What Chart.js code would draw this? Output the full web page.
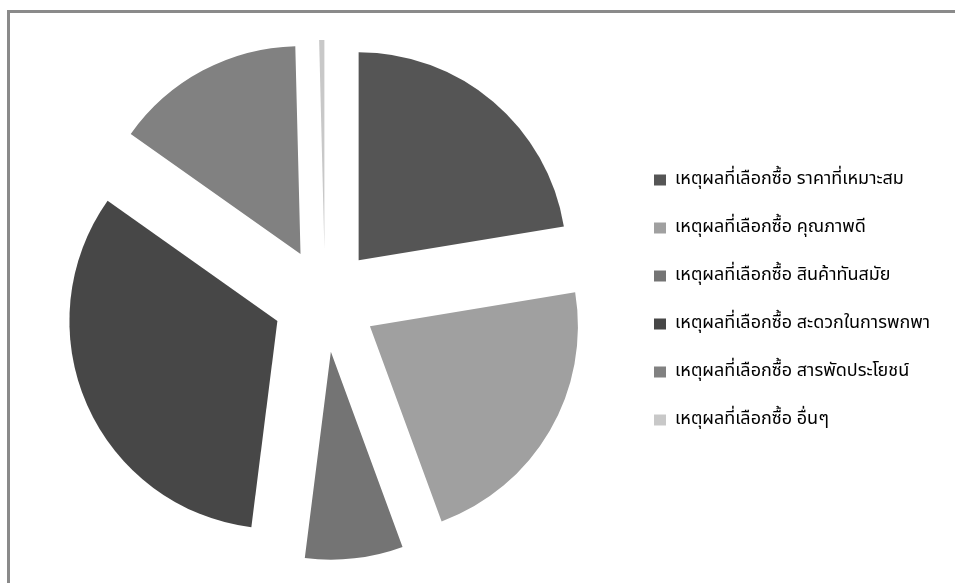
<!DOCTYPE html>
<html lang="th">
<head>
<meta charset="utf-8">
<title>เหตุผลที่เลือกซื้อ</title>
<script src="https://cdn.jsdelivr.net/npm/chart.js@4.4.0/dist/chart.umd.min.js"></script>
<style>
  html, body { margin: 0; padding: 0; background: #fff; }
  #wrap { position: relative; width: 955px; height: 583px; overflow: hidden; }
  #reasonChart { position: absolute; left: 0; top: 0; }
  /* plot frame: only the left and top edges fall inside the page */
  #frame {
    position: absolute; left: 7px; top: 10px; right: -20px; bottom: -20px;
    border-left: 3px solid #8a8a8a; border-top: 3px solid #8a8a8a;
    pointer-events: none;
  }
</style>
</head>
<body>
<div id="wrap">
  <canvas id="reasonChart" width="955" height="583"></canvas>
  <div id="frame"></div>
</div>
<script>
const reasonLabels = [
  'เหตุผลที่เลือกซื้อ ราคาที่เหมาะสม',
  'เหตุผลที่เลือกซื้อ คุณภาพดี',
  'เหตุผลที่เลือกซื้อ สินค้าทันสมัย',
  'เหตุผลที่เลือกซื้อ สะดวกในการพกพา',
  'เหตุผลที่เลือกซื้อ สารพัดประโยชน์',
  'เหตุผลที่เลือกซื้อ อื่นๆ'
];
const reasonCounts = [56, 55, 19, 82, 37, 1];
const sliceColors = ['#555555', '#a0a0a0', '#747474', '#474747', '#818181', '#c8c8c8'];

const explodeDistance = 52;   // how far each slice is pulled out from the centre
const pieRadius = 208;
const legendLeft = 624;       // chart area ends where the legend starts

// Draw every arc pushed out along its bisector, keeping the radius unchanged
const explodePlugin = {
  id: 'explodeSlices',
  beforeDatasetDraw(chart, args) {
    const ctx = chart.ctx;
    args.meta.data.forEach(arc => {
      const mid = (arc.startAngle + arc.endAngle) / 2;
      ctx.save();
      ctx.translate(Math.cos(mid) * explodeDistance, Math.sin(mid) * explodeDistance);
      arc.draw(ctx);
      ctx.restore();
    });
    return false;
  }
};

const ctx = document.getElementById('reasonChart').getContext('2d');
const chart = new Chart(ctx, {
  type: 'pie',
  data: {
    labels: reasonLabels,
    datasets: [{
      data: reasonCounts,
      backgroundColor: sliceColors,
      borderWidth: 0
    }]
  },
  options: {
    responsive: false,
    animation: false,
    devicePixelRatio: 1,
    radius: pieRadius,
    layout: {
      padding: { left: 26, right: 0, top: 17, bottom: 0 }
    },
    plugins: {
      legend: {
        position: 'right',
        align: 'center',
        labels: {
          boxWidth: 12,
          boxHeight: 11,
          padding: 30,
          color: '#000000',
          font: { family: 'Tahoma, "Noto Sans Thai", "DejaVu Sans", sans-serif', size: 18 }
        }
      },
      tooltip: { enabled: false }
    }
  },
  plugins: [explodePlugin]
});

// Push the legend so it starts at a fixed x, whatever width the labels need
chart.options.layout.padding.right = Math.max(0, 955 - legendLeft - chart.legend.width);
chart.update();
</script>
</body>
</html>
